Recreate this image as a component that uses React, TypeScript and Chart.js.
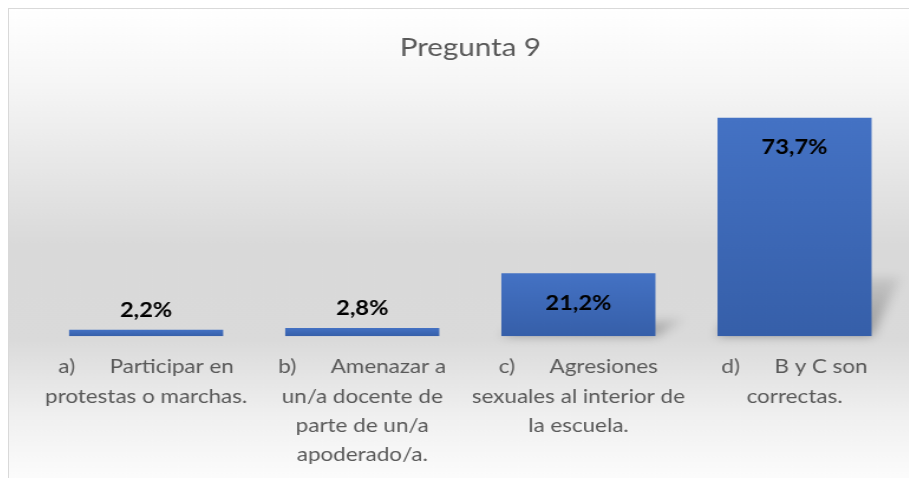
import React, { useEffect, useRef } from "react";
import { Chart, registerables } from "chart.js";

Chart.register(...registerables);

const chartTitle = "Pregunta 9";
const categories: string[][] = [
  ["a)      Participar en", "protestas o marchas."],
  ["b)      Amenazar a", "un/a docente de", "parte de un/a", "apoderado/a."],
  ["c)      Agresiones", "sexuales al interior de", "la escuela."],
  ["d)      B y C son", "correctas."],
];
const values = [2.2, 2.8, 21.2, 73.7];
const valueLabels = ["2,2%", "2,8%", "21,2%", "73,7%"];

const FONT = "Lato, 'Open Sans', sans-serif";
const STRETCH = 1.18;
const CSS_W = 908;
const CSS_H = 485;
const INT_W = Math.round(CSS_W / STRETCH);

const backgroundPlugin = {
  id: "bgGradient",
  beforeDraw(chart: any) {
    const { ctx, width, height } = chart;
    const g = ctx.createLinearGradient(0, 0, 0, height);
    g.addColorStop(0, "#ffffff");
    g.addColorStop(0.15, "#f6f6f6");
    g.addColorStop(0.49, "#d9d9d9");
    g.addColorStop(0.68, "#dadada");
    g.addColorStop(0.84, "#f0f0f0");
    g.addColorStop(0.97, "#fcfcfc");
    g.addColorStop(1, "#fdfdfd");
    ctx.save();
    ctx.fillStyle = g;
    ctx.fillRect(0, 0, width, height);
    ctx.restore();
  },
};

const shadowPlugin = {
  id: "barShadow",
  beforeDatasetsDraw(chart: any) {
    const ctx = chart.ctx;
    const meta = chart.getDatasetMeta(0);
    meta.data.forEach((bar: any) => {
      const w = bar.width;
      const left = bar.x - w / 2;
      const right = bar.x + w / 2;
      const top = bar.y;
      const bottom = bar.base;
      const h = bottom - top;
      if (h < 20) return;
      const dy = h * 0.27;
      const dx = 24;
      ctx.save();
      ctx.filter = "blur(5px)";
      const g = ctx.createLinearGradient(0, bottom, 0, bottom - dy);
      g.addColorStop(0, "rgba(0,0,0,0.32)");
      g.addColorStop(1, "rgba(0,0,0,0.08)");
      ctx.fillStyle = g;
      ctx.beginPath();
      ctx.moveTo(left, bottom);
      ctx.lineTo(right, bottom);
      ctx.lineTo(right + dx, bottom - dy);
      ctx.lineTo(left + dx, bottom - dy);
      ctx.closePath();
      ctx.fill();
      ctx.restore();
    });
  },
};

const labelPlugin = {
  id: "valueLabels",
  afterDatasetsDraw(chart: any) {
    const ctx = chart.ctx;
    const meta = chart.getDatasetMeta(0);
    ctx.save();
    ctx.font = `bold 20px ${FONT}`;
    ctx.fillStyle = "#000000";
    ctx.textAlign = "center";
    ctx.textBaseline = "middle";
    meta.data.forEach((bar: any, i: number) => {
      const h = bar.base - bar.y;
      const y = h > 40 ? bar.y + 30 : bar.y - 19;
      ctx.fillText(valueLabels[i], bar.x, y);
    });
    ctx.restore();
  },
};

export default function App() {
  const ref = useRef<HTMLCanvasElement | null>(null);

  useEffect(() => {
    if (!ref.current) return;
    const chart = new Chart(ref.current, {
      type: "bar",
      data: {
        labels: categories,
        datasets: [
          {
            data: values,
            barPercentage: 0.713,
            categoryPercentage: 1,
            borderWidth: 0,
            backgroundColor: (c: any) => {
              const ch = c.chart;
              if (!ch.chartArea || c.type !== "data" || !ch.scales.y) return "#4472c4";
              const ys = ch.scales.y;
              const top = ys.getPixelForValue(c.parsed.y);
              const bot = ys.getPixelForValue(0);
              if (!isFinite(top) || !isFinite(bot) || top === bot) return "#4472c4";
              const g = ch.ctx.createLinearGradient(0, top, 0, bot);
              g.addColorStop(0, "#4472c4");
              g.addColorStop(1, "#365fa9");
              return g;
            },
          },
        ],
      },
      options: {
        responsive: false,
        animation: false,
        devicePixelRatio: 1,
        layout: { padding: { left: 24.6, right: 12.2, top: 0, bottom: 8 } },
        plugins: {
          legend: { display: false },
          tooltip: { enabled: false },
          title: {
            display: true,
            text: chartTitle,
            color: "#595959",
            font: { family: FONT, size: 25, weight: "normal" },
            padding: { top: 24, bottom: 36 },
          },
        },
        scales: {
          x: {
            grid: { display: false, drawTicks: false },
            border: { display: false },
            ticks: {
              color: "#595959",
              font: { family: FONT, size: 19, lineHeight: 1.55 },
              padding: 16,
              autoSkip: false,
              maxRotation: 0,
              minRotation: 0,
            },
          },
          y: { display: false, min: 0, max: 80 },
        },
      },
      plugins: [backgroundPlugin, shadowPlugin, labelPlugin],
    });
    return () => chart.destroy();
  }, []);

  return (
    <div
      style={{
        width: 909,
        height: 470,
        boxSizing: "border-box",
        borderTop: "1px solid #d9d9d9",
        borderLeft: "1px solid #d9d9d9",
        overflow: "hidden",
      }}
    >
      <canvas
        ref={ref}
        width={INT_W}
        height={CSS_H}
        style={{ display: "block", width: CSS_W + "px", height: CSS_H + "px" }}
      />
    </div>
  );
}
